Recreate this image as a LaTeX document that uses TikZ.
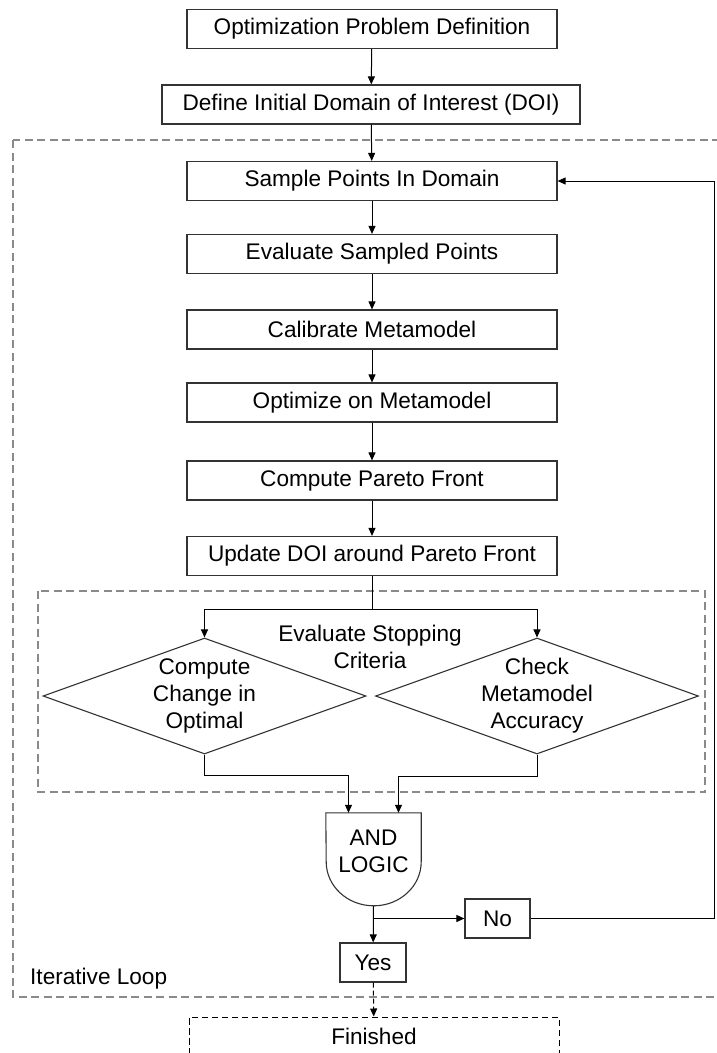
\documentclass[tikz,border=0pt]{standalone}
\usepackage{fontspec}
\setmainfont{Liberation Sans}
\usetikzlibrary{arrows.meta,shapes.geometric}

\definecolor{edge}{HTML}{333333}
\definecolor{frame}{HTML}{8A8A8A}

\tikzset{
  txt/.style={font=\fontsize{22.6}{27}\selectfont, text=black, align=center, inner sep=0pt},
  stepbox/.style={txt, draw=edge, line width=1.2pt, minimum height=39pt, minimum width=370pt},
  decision/.style={diamond, draw=edge, line width=1.1pt, minimum width=323pt, minimum height=116pt, inner sep=0pt},
  conn/.style={draw=black, line width=1pt},
  flow/.style={conn, -{Triangle[length=8pt,width=7pt]}},
  region/.style={draw=frame, line width=1.4pt, dash pattern=on 8pt off 4.5pt},
  exitbox/.style={draw=black, line width=1pt, dash pattern=on 6.5pt off 3.5pt}
}

\begin{document}
\begin{tikzpicture}[x=1pt, y=-1pt]
\clip (0,0) rectangle (717,1053);
\fill[white] (0,0) rectangle (717,1053);

% dashed regions
\draw[region] (13,140) rectangle (722,997);
\draw[region] (38,591) rectangle (705,792);
\node[txt, anchor=west] (loop) at (30,979) {Iterative Loop};

% main chain of steps
\node[stepbox] (prob) at (372,29) {Optimization Problem Definition};
\node[stepbox, minimum width=418pt] (doi) at (371,104.5) {Define Initial Domain of Interest (DOI)};
\node[stepbox] (samp) at (372,181) {Sample Points In Domain};
\node[stepbox] (eval) at (372,254) {Evaluate Sampled Points};
\node[stepbox] (cal) at (372,329.5) {Calibrate Metamodel};
\node[stepbox] (opt) at (372,402.5) {Optimize on Metamodel};
\node[stepbox] (par) at (372,480.5) {Compute Pareto Front};
\node[stepbox] (upd) at (372,556) {Update DOI around Pareto Front};

\draw[flow] (prob) -- (doi);
\draw[flow] (doi) -- (samp);
\draw[flow] (samp) -- (eval);
\draw[flow] (eval) -- (cal);
\draw[flow] (cal) -- (opt);
\draw[flow] (opt) -- (par);
\draw[flow] (par) -- (upd);

% stopping criteria
\node[txt] (crit) at (370,646.5) {Evaluate Stopping\\Criteria};
\node[decision] (chg) at (204.5,696) {};
\node[txt] at (chg) {Compute\\Change in\\Optimal};
\node[decision] (acc) at (537,696) {};
\node[txt] at (acc) {Check\\Metamodel\\Accuracy};

\coordinate (split) at (372,609);
\draw[conn] (upd) -- (split);
\draw[flow] (split) -| (chg.north);
\draw[flow] (split) -| (acc.north);

% AND gate
\node[minimum width=95pt, minimum height=93pt, inner sep=0pt] (gate) at (373.5,859.5) {};
\draw[draw=edge, line width=1.1pt] (gate.north west) -- (gate.north east) -- ++(0,49)
  arc[start angle=0, end angle=-180, x radius=47.5pt, y radius=44pt] -- cycle;
\node[txt] at (373.5,851.5) {AND\\LOGIC};

\coordinate (inL) at ([xshift=-25pt]gate.north);
\coordinate (inR) at ([xshift=25pt]gate.north);
\draw[flow] (chg.south) |- ++(0,21) -| (inL);
\draw[flow] (acc.south) |- ++(0,22) -| (inR);

% outcomes
\node[stepbox, minimum width=66pt] (yes) at (373,962.5) {Yes};
\node[stepbox, minimum width=65pt] (no) at (497.5,918.5) {No};
\coordinate (fork) at (373,918.5);
\draw[flow] (gate.south) -- (yes);
\draw[flow] (fork) -- (no);
\draw[flow] (no.east) -- (714,918.5) |- (samp.east);

% exit
\node[txt, exitbox, minimum width=370pt, minimum height=39pt] (done) at (374,1036.5) {Finished};
\draw[conn, dash pattern=on 5pt off 3pt, -{Triangle[length=8pt,width=7pt]}] (yes) -- (done);
\end{tikzpicture}
\end{document}
